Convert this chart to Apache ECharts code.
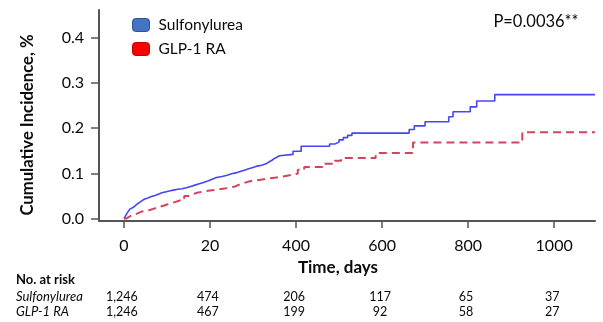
<!DOCTYPE html>
<html>
<head>
<meta charset="utf-8">
<script src="https://cdn.jsdelivr.net/npm/echarts@6/dist/echarts.min.js"></script>
<style>
  html, body { margin: 0; padding: 0; background: #fff; }
  #main { width: 603px; height: 322px; }
</style>
</head>
<body>
<div id="main"></div>
<script>
// Kaplan-Meier style cumulative incidence
const seriesNames = ["Sulfonylurea", "GLP-1 RA"];

const sulfDays = [0, 3, 6, 10, 14, 18, 22, 27, 32, 38, 44, 50, 57, 64, 72, 80, 88, 96, 105, 115, 125, 135, 145, 155, 165, 175, 185, 195, 205, 215, 228, 240, 250, 260, 270, 280, 290, 300, 310, 320, 330, 337, 344, 350, 356, 362, 393, 412, 478, 490, 500, 510, 520, 530, 663, 675, 700, 755, 765, 805, 820, 862, 1095];
const sulfVals = [0, 0.005, 0.010, 0.016, 0.021, 0.025, 0.029, 0.033, 0.037, 0.041, 0.044, 0.046, 0.049, 0.051, 0.054, 0.057, 0.059, 0.061, 0.063, 0.065, 0.066, 0.068, 0.071, 0.074, 0.077, 0.080, 0.083, 0.087, 0.091, 0.093, 0.096, 0.099, 0.101, 0.104, 0.107, 0.110, 0.113, 0.116, 0.118, 0.121, 0.125, 0.129, 0.133, 0.136, 0.139, 0.142, 0.149, 0.160, 0.165, 0.169, 0.174, 0.179, 0.184, 0.189, 0.197, 0.205, 0.214, 0.225, 0.236, 0.247, 0.260, 0.274, 0.274];

const glpDays = [0, 5, 12, 20, 30, 40, 50, 60, 70, 80, 90, 100, 110, 120, 130, 140, 150, 160, 170, 185, 200, 215, 230, 245, 258, 268, 280, 295, 310, 325, 340, 355, 370, 385, 396, 404, 419, 466, 490, 505, 585, 592, 672, 926, 1095];
const glpVals = [0, 0.004, 0.008, 0.011, 0.015, 0.017, 0.019, 0.022, 0.025, 0.028, 0.031, 0.034, 0.037, 0.040, 0.045, 0.050, 0.054, 0.057, 0.060, 0.062, 0.064, 0.066, 0.068, 0.071, 0.075, 0.079, 0.083, 0.085, 0.087, 0.089, 0.091, 0.093, 0.096, 0.098, 0.099, 0.108, 0.114, 0.121, 0.128, 0.134, 0.139, 0.145, 0.168, 0.191, 0.191];

const xTicks = [0, 200, 400, 600, 800, 1000];
const xTickLabels = ["0", "20", "400", "600", "800", "1000"];
const yTicks = [0, 0.1, 0.2, 0.3, 0.4];

const riskDays = [0, 200, 400, 600, 800, 1000];
const riskSulf = ["1,246", "474", "206", "117", "65", "37"];
const riskGlp = ["1,246", "467", "199", "92", "58", "27"];

const font = "Lato, 'Open Sans', sans-serif";
const ink = "#0a0a0a";
const chart = echarts.init(document.getElementById("main"));

const pairs = (xs, ys) => xs.map((x, i) => [x, ys[i]]);

const option = {
  animation: false,
  backgroundColor: "#fff",
  textStyle: { fontFamily: font },
  grid: { left: 99, right: 8, top: 10, bottom: 101 },
  legend: {
    orient: "vertical",
    left: 127,
    top: 12,
    icon: "roundRect",
    itemWidth: 17,
    itemHeight: 13,
    itemGap: 8,
    textStyle: { fontSize: 15.5, color: ink, fontFamily: font, padding: [0, 0, 0, 4] },
    data: [
      { name: seriesNames[0], itemStyle: { color: "#4472c4", borderColor: "#2f528f", borderWidth: 1 }, lineStyle: { width: 0 } },
      { name: seriesNames[1], itemStyle: { color: "#ff0000", borderColor: "#c00000", borderWidth: 1 }, lineStyle: { width: 0 } }
    ]
  },
  xAxis: {
    type: "value",
    min: -58,
    max: 1095,
    splitLine: { show: false },
    axisLine: { onZero: false, lineStyle: { color: "#555", width: 2 } },
    axisTick: { customValues: xTicks, length: 7, lineStyle: { color: "#555", width: 1.5 } },
    axisLabel: {
      customValues: xTicks,
      formatter: v => xTickLabels[xTicks.indexOf(v)],
      fontSize: 16, color: ink, margin: 17, fontFamily: font
    }
  },
  yAxis: {
    type: "value",
    min: -0.0053,
    max: 0.461,
    splitLine: { show: false },
    axisLine: { show: true, onZero: false, lineStyle: { color: "#555", width: 2 } },
    axisTick: { show: true, customValues: yTicks, length: 8, lineStyle: { color: "#555", width: 1.5 } },
    axisLabel: {
      customValues: yTicks,
      formatter: v => v.toFixed(1),
      fontSize: 16, color: ink, margin: 15, fontFamily: font
    }
  },
  series: [
    {
      name: seriesNames[0],
      type: "line",
      step: "end",
      symbol: "none",
      data: pairs(sulfDays, sulfVals),
      lineStyle: { color: "#4646f2", width: 1.6 },
      itemStyle: { color: "#4472c4" }
    },
    {
      name: seriesNames[1],
      type: "line",
      step: "end",
      symbol: "none",
      data: pairs(glpDays, glpVals),
      lineStyle: { color: "#d2445a", width: 2, type: [8, 5] },
      itemStyle: { color: "#ff0000" }
    }
  ]
};

chart.setOption(option);

// texts outside the plot: axis names, p value, number-at-risk table
const px = d => chart.convertToPixel({ xAxisIndex: 0 }, d);
const graphic = [
  {
    type: "text", x: 28, y: 125, rotation: Math.PI / 2,
    style: { text: "Cumulative Incidence, %", fontSize: 16.7, fontWeight: "bold", fill: ink, fontFamily: font, align: "center", verticalAlign: "middle" }
  },
  {
    type: "text", x: 338, y: 268,
    style: { text: "Time, days", fontSize: 17, fontWeight: "bold", fill: ink, fontFamily: font, align: "center", verticalAlign: "middle" }
  },
  {
    type: "text", x: 536, y: 22,
    style: { text: "P=0.0036**", fontSize: 16.5, fill: ink, fontFamily: font, align: "center", verticalAlign: "middle" }
  },
  {
    type: "text", x: 16, y: 280,
    style: { text: "No. at risk", fontSize: 13, fontWeight: "bold", fill: ink, fontFamily: font, verticalAlign: "middle" }
  },
  {
    type: "text", x: 16, y: 296.5,
    style: { text: "Sulfonylurea", fontSize: 13, fontStyle: "italic", fill: ink, fontFamily: font, verticalAlign: "middle" }
  },
  {
    type: "text", x: 16, y: 312,
    style: { text: "GLP-1 RA", fontSize: 13, fontStyle: "italic", fill: ink, fontFamily: font, verticalAlign: "middle" }
  }
];
riskDays.forEach((d, i) => {
  const x = px(d) - 2;
  graphic.push({ type: "text", x: x, y: 296.5, style: { text: riskSulf[i], fontSize: 12.5, fill: ink, fontFamily: font, align: "center", verticalAlign: "middle" } });
  graphic.push({ type: "text", x: x, y: 312, style: { text: riskGlp[i], fontSize: 12.5, fill: ink, fontFamily: font, align: "center", verticalAlign: "middle" } });
});
chart.setOption({ graphic: graphic });
</script>
</body>
</html>
